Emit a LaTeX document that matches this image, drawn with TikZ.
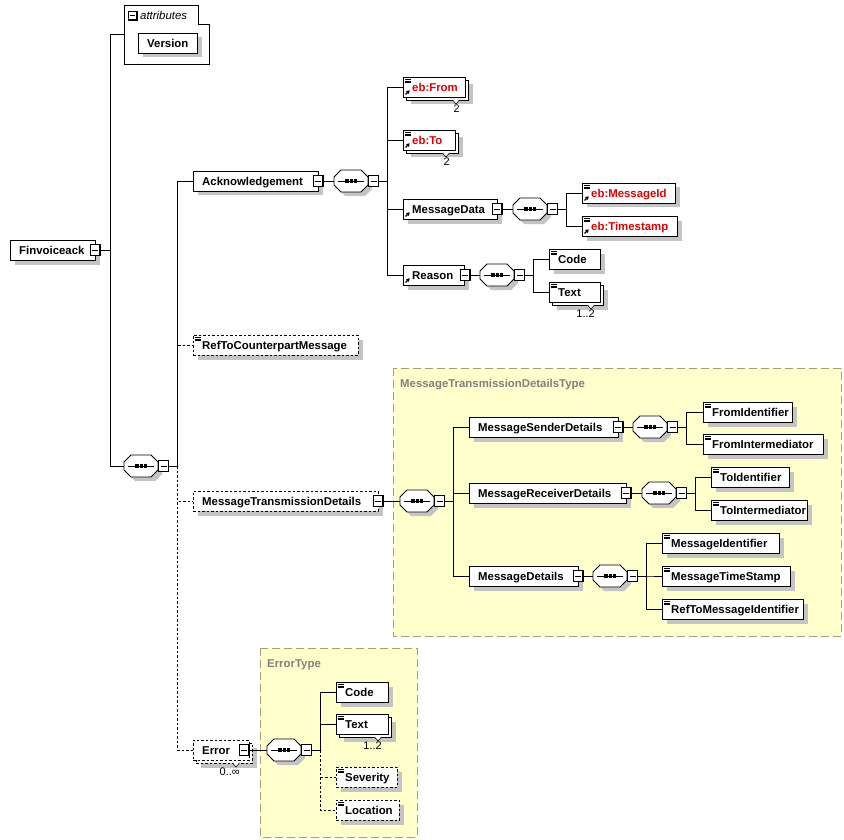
\documentclass[tikz,border=0pt]{standalone}
\usepackage{fontspec}
\setmainfont{Liberation Sans}
\usetikzlibrary{calc,arrows.meta}
\definecolor{shadowgray}{RGB}{196,196,196}
\definecolor{ebred}{RGB}{225,0,0}
\definecolor{ylw}{RGB}{255,255,204}
\definecolor{ylwb}{RGB}{160,160,120}
\definecolor{titlegray}{RGB}{128,128,128}
\newcommand\lbfont{\fontsize{11.4}{13}\selectfont\bfseries}
\newcommand\nmfont{\fontsize{11}{12}\selectfont}
\tikzset{
 conn/.style={line width=0.9pt},
 optconn/.style={line width=0.9pt, dash pattern=on 2.5pt off 2pt},
 boxn/.style={draw, fill=white, line width=0.9pt, minimum height=20pt, inner sep=0pt, outer sep=0pt, anchor=west},
 opt/.style={dash pattern=on 2.5pt off 2pt},
 lbl/.style={font=\lbfont, anchor=base west, inner sep=0pt},
 mbox/.style={draw, fill=white, line width=0.9pt, minimum width=10pt, minimum height=11pt, inner sep=0pt, outer sep=0pt},
 seqn/.style={minimum width=34pt, minimum height=22pt, inner sep=0pt, outer sep=0pt, anchor=west},
 numl/.style={font=\nmfont, anchor=north east, inner sep=0pt},
}
\newcommand\xEl[6][]{%
  \pgfmathsetmacro\xelw{#5-#3}%
  \fill[shadowgray] (#3+4.5,#4-5.5) rectangle (#5+4.5,#4+14.5);
  \node[boxn,#1,minimum width=\xelw pt] (#2) at (#3,#4) {};
  \node[lbl] (#2-t) at (#3+9,#4+4.2) {#6};
}
\newcommand\xMu[6][]{%
  \pgfmathsetmacro\xelw{#5-#3}%
  \fill[shadowgray] (#3+7.5,#4-2.5) rectangle (#5+7.5,#4+17.5);
  \node[boxn,#1,minimum width=\xelw pt] (#2-b) at (#3+3,#4+3) {};
  \node[boxn,#1,minimum width=\xelw pt] (#2) at (#3,#4) {};
  \node[lbl] (#2-t) at (#3+9,#4+4.2) {#6};
}
\newcommand\xMi[2]{%
  \node[mbox] (#1) at (#2) {};
  \draw[line width=0.9pt] ($(#1.west)+(2,0)$) -- ($(#1.east)+(-2,0)$);
  \draw[line width=1.6pt] ($(#1.south west)+(0.3,0)$) -- (#1.south east) -- ($(#1.north east)+(0,0.3)$);
}
\newcommand\xIc[1]{%
  \foreach \k in {0,1.7,3.4} \draw[line width=0.7pt] ($(#1.north west)+(2,2.2+\k)$) -- ++(5.5,0);
}
\newcommand\xRf[1]{%
  \draw[line width=1.1pt,-{Triangle[length=3.2pt,width=3.8pt]}] ($(#1.south west)+(2.5,-2.5)$) -- ++(4.2,-4.2);
}
\newcommand\xSq[3]{%
  \fill[shadowgray,shift={(4,4)}] (#2,#3-4) -- (#2+7,#3-11) -- (#2+27,#3-11) -- (#2+34,#3-4) -- (#2+34,#3+4) -- (#2+27,#3+11) -- (#2+7,#3+11) -- (#2,#3+4) -- cycle;
  \filldraw[fill=white,line width=0.9pt] (#2,#3-4) -- (#2+7,#3-11) -- (#2+27,#3-11) -- (#2+34,#3-4) -- (#2+34,#3+4) -- (#2+27,#3+11) -- (#2+7,#3+11) -- (#2,#3+4) -- cycle;
  \node[seqn] (#1) at (#2,#3) {};
  \draw[line width=0.9pt] (#2+4,#3) -- (#2+30,#3);
  \foreach \k in {13,17.2,21.4} \fill (#2+\k-1.6,#3-1.6) rectangle ++(3.2,3.2);
  \xMi{#1-m}{#2+39.5,#3}
}
\newcommand\xOc[4]{%
  \filldraw[fill=white,line width=0.6pt] (#2-3.5,#3) -- (#2,#3+4) -- (#2+3.5,#3);
  \node[numl] (#1) at (#2+4,#3+4.5) {#4};
}
\begin{document}
\begin{tikzpicture}[x=1pt,y=-1pt]
\useasboundingbox (0,0) rectangle (844,840);
\fill[white] (0,0) rectangle (844,840);
% type backgrounds
\filldraw[fill=ylw,draw=ylwb,line width=0.9pt,dash pattern=on 8pt off 4pt] (393,368) rectangle (841,636);
\node[lbl,text=titlegray] (mtdtype) at (400,387) {MessageTransmissionDetailsType};
\filldraw[fill=ylw,draw=ylwb,line width=0.9pt,dash pattern=on 8pt off 4pt] (260,648) rectangle (417,837);
\node[lbl,text=titlegray] (errtype) at (267,667) {ErrorType};
% root
\xEl{fin}{10}{250}{95}{Finvoiceack}
\xMi{fin-m}{95,250}
% attributes
\draw[line width=0.9pt,fill=white] (124,5) -- (198,5) -- (198,24) -- (209,24) -- (209,64) -- (124,64) -- cycle;
\node[minimum width=85pt,minimum height=59pt,inner sep=0pt,outer sep=0pt,anchor=north west] (attr) at (124,5) {};
\node[draw,fill=white,line width=0.9pt,minimum width=8pt,minimum height=8pt,inner sep=0pt] (attr-m) at (132.5,15.5) {};
\draw[line width=0.9pt] ($(attr-m.west)+(1.5,0)$) -- ($(attr-m.east)+(-1.5,0)$);
\draw[line width=1.4pt] (attr-m.south west) -- (attr-m.south east) -- (attr-m.north east);
\node[anchor=base west,inner sep=0pt,font=\fontsize{11.4}{13}\selectfont\itshape] (attr-t) at (140,19.5) {attributes};
\xEl{ver}{138}{43}{197}{Version}
% main sequence
\xSq{s1}{124}{466}
\xEl{ack}{193}{181}{318}{Acknowledgement}
\xMi{ack-m}{318,181}
\xSq{s2}{334}{181}
\xMu{from}{403}{87}{465}{\textcolor{ebred}{eb:From}}
\xIc{from}\xRf{from}
\xOc{from-n}{456}{100}{2}
\xMu{to}{403}{140}{455}{\textcolor{ebred}{eb:To}}
\xIc{to}\xRf{to}
\xOc{to-n}{446}{153}{2}
\xEl{md}{403}{209}{497}{MessageData}
\xRf{md}
\xMi{md-m}{497,209}
\xSq{s3}{513}{209}
\xEl{mid}{582}{193}{675}{\textcolor{ebred}{eb:MessageId}}
\xIc{mid}\xRf{mid}
\xEl{ts}{582}{226}{677}{\textcolor{ebred}{eb:Timestamp}}
\xIc{ts}\xRf{ts}
\xEl{rs}{403}{275}{464}{Reason}
\xRf{rs}
\xMi{rs-m}{465,275}
\xSq{s4}{480}{275}
\xEl{rc}{549}{259}{600}{Code}
\xIc{rc}
\xMu{rt}{549}{292}{600}{Text}
\xIc{rt}
\xOc{rt-n}{591}{305}{1..2}
% RefToCounterpartMessage
\xEl[opt]{rtc}{193}{345}{358}{RefToCounterpartMessage}
\xIc{rtc}
% MessageTransmissionDetails
\xEl[opt]{mtd}{193}{501}{378}{MessageTransmissionDetails}
\xMi{mtd-m}{378,501}
\xSq{s5}{400}{501}
\xEl{msd}{469}{427}{618}{MessageSenderDetails}
\xMi{msd-m}{618,427}
\xSq{s6}{633}{427}
\xEl{fid}{703}{412}{792}{FromIdentifier}
\xIc{fid}
\xEl{fim}{703}{444}{823}{FromIntermediator}
\xIc{fim}
\xEl{mrd}{469}{493}{626}{MessageReceiverDetails}
\xMi{mrd-m}{626,493}
\xSq{s7}{642}{493}
\xEl{tid}{711}{477}{789}{ToIdentifier}
\xIc{tid}
\xEl{tim}{711}{510}{807}{ToIntermediator}
\xIc{tim}
\xEl{mdd}{469}{576}{578}{MessageDetails}
\xMi{mdd-m}{578,576}
\xSq{s8}{593}{576}
\xEl{mi}{662}{543}{779}{MessageIdentifier}
\xIc{mi}
\xEl{mts}{662}{576}{790}{MessageTimeStamp}
\xIc{mts}
\xEl{rmi}{662}{609}{803}{RefToMessageIdentifier}
\xIc{rmi}
% Error
\xMu[opt]{err}{193}{750}{249}{Error}
\xMi{err-m}{244,750}
\xOc{err-n}{236}{763}{0..∞}
\xSq{s9}{267}{750}
\xEl{ec}{336}{692}{388}{Code}
\xIc{ec}
\xMu{et}{336}{724}{388}{Text}
\xIc{et}
\xOc{et-n}{378}{737}{1..2}
\xEl[opt]{sev}{336}{777}{397}{Severity}
\xIc{sev}
\xEl[opt]{loc}{336}{810}{399}{Location}
\xIc{loc}
% connectors
\draw[conn] (fin-m.east) -- ++(10,0) |- (attr.west);
\draw[conn] (fin-m.east) -- ++(10,0) |- (s1.west);
\draw[optconn] (s1-m.east) -- ++(9,0) |- (rtc.west);
\draw[optconn] (s1-m.east) -- ++(9,0) |- (mtd.west);
\draw[optconn] (s1-m.east) -- ++(9,0) |- (err.west);
\draw[conn] (s1-m.east) -- ++(9,0) |- (ack.west);
\draw[conn] (ack-m.east) -- (s2.west);
\draw[conn] (s2-m.east) -- ++(9,0) |- (from.west);
\draw[conn] (s2-m.east) -- ++(9,0) |- (to.west);
\draw[conn] (s2-m.east) -- ++(9,0) |- (md.west);
\draw[conn] (s2-m.east) -- ++(9,0) |- (rs.west);
\draw[conn] (md-m.east) -- (s3.west);
\draw[conn] (s3-m.east) -- ++(9,0) |- (mid.west);
\draw[conn] (s3-m.east) -- ++(9,0) |- (ts.west);
\draw[conn] (rs-m.east) -- (s4.west);
\draw[conn] (s4-m.east) -- ++(9,0) |- (rc.west);
\draw[conn] (s4-m.east) -- ++(9,0) |- (rt.west);
\draw[conn] (mtd-m.east) -- (s5.west);
\draw[conn] (s5-m.east) -- ++(9,0) |- (msd.west);
\draw[conn] (s5-m.east) -- ++(9,0) |- (mrd.west);
\draw[conn] (s5-m.east) -- ++(9,0) |- (mdd.west);
\draw[conn] (msd-m.east) -- (s6.west);
\draw[conn] (s6-m.east) -- ++(9,0) |- (fid.west);
\draw[conn] (s6-m.east) -- ++(9,0) |- (fim.west);
\draw[conn] (mrd-m.east) -- (s7.west);
\draw[conn] (s7-m.east) -- ++(9,0) |- (tid.west);
\draw[conn] (s7-m.east) -- ++(9,0) |- (tim.west);
\draw[conn] (mdd-m.east) -- (s8.west);
\draw[conn] (s8-m.east) -- ++(9,0) |- (mi.west);
\draw[conn] (s8-m.east) -- ++(9,0) |- (mts.west);
\draw[conn] (s8-m.east) -- ++(9,0) |- (rmi.west);
\draw[conn] (err-m.east) -- (s9.west);
\draw[optconn] (s9-m.east) -- ++(9,0) |- (sev.west);
\draw[optconn] (s9-m.east) -- ++(9,0) |- (loc.west);
\draw[conn] (s9-m.east) -- ++(9,0) |- (ec.west);
\draw[conn] (s9-m.east) -- ++(9,0) |- (et.west);
\end{tikzpicture}
\end{document}
